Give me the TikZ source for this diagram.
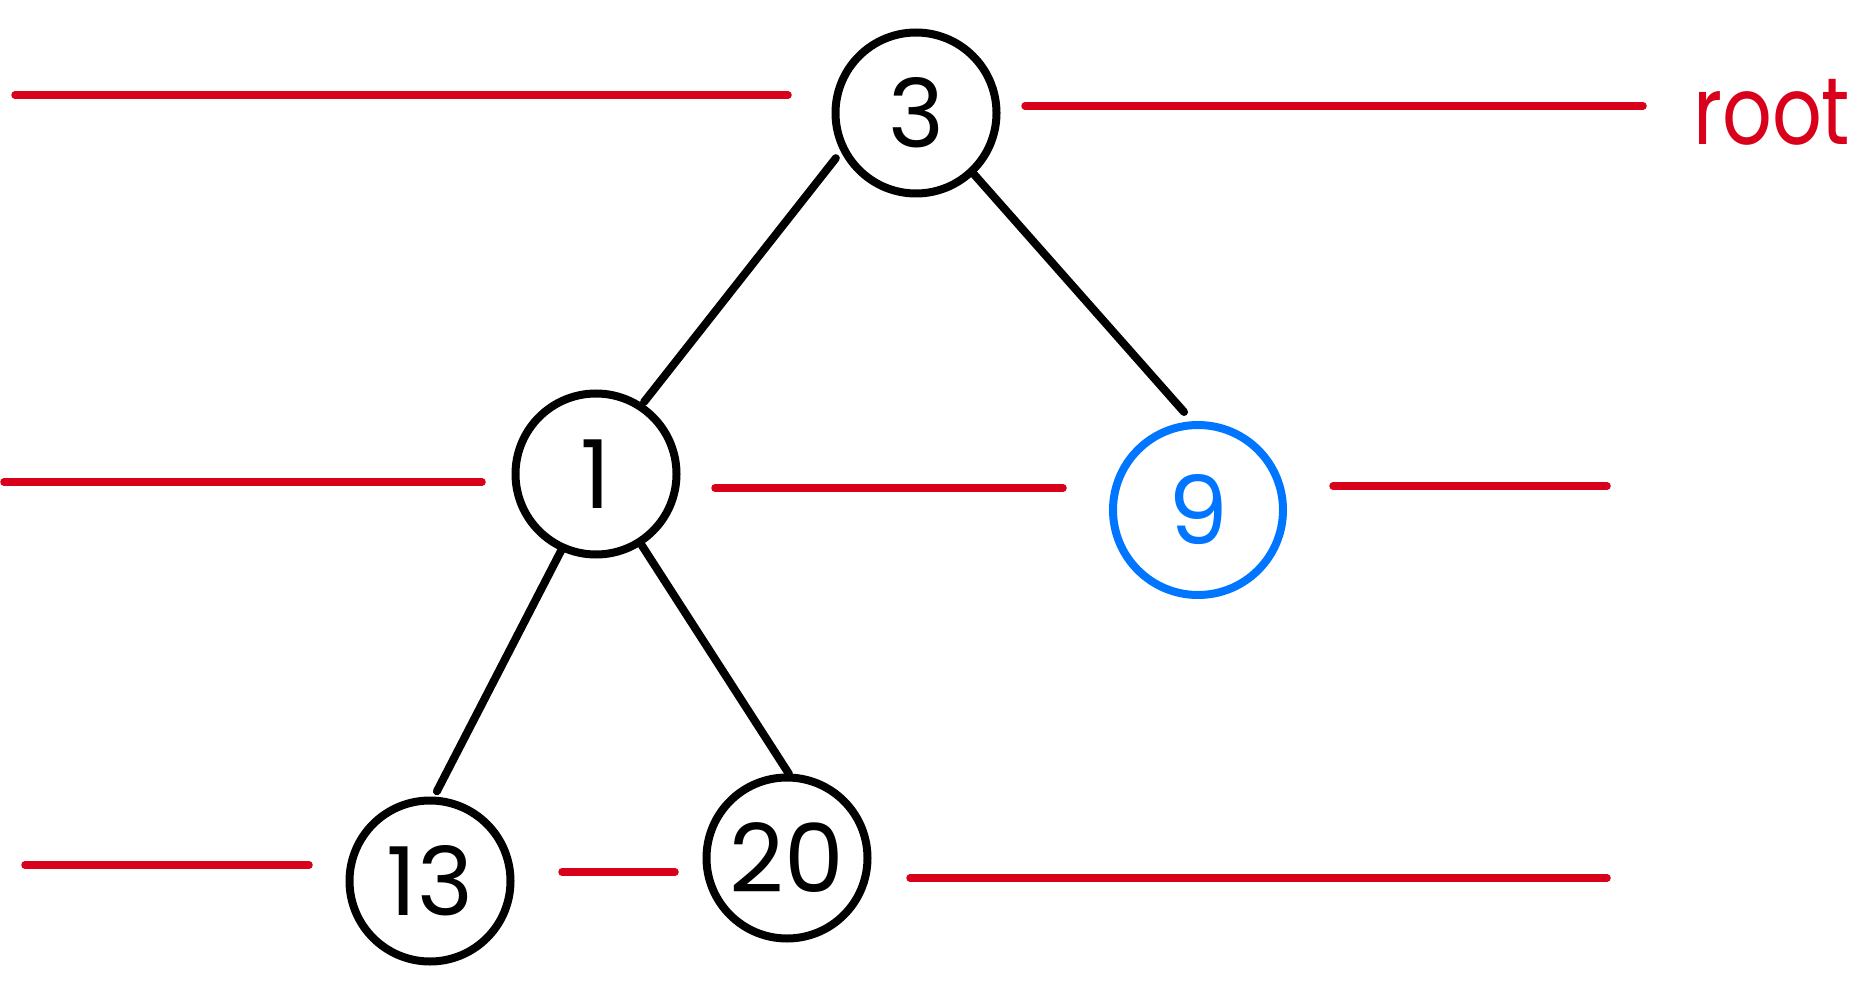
\documentclass[tikz,border=0pt]{standalone}
\usepackage{fontspec}
\setmainfont{Poppins}
\newfontfamily\rootfont[FakeStretch=0.82]{Poppins}
\usetikzlibrary{calc}
\definecolor{mred}{RGB}{217,0,27}
\definecolor{mblue}{RGB}{0,117,255}
\tikzset{
  treenode/.style={circle, draw=black, line width=8pt, minimum size=161pt, inner sep=0pt, font=\fontsize{95}{95}\selectfont},
  bluenode/.style={treenode, draw=mblue, text=mblue, minimum size=170pt},
  edge/.style={draw=black, line width=8pt, line cap=round},
  level/.style={draw=mred, line width=7.5pt, line cap=round},
}
\begin{document}
\begin{tikzpicture}[x=1pt,y=-1pt]
\useasboundingbox[fill=white] (0,0) rectangle (1863,1000);
% nodes
\node[treenode] (n3) at (916,113) {3};
\node[treenode] (n1) at (596,474) {1};
\node[bluenode] (n9) at (1198,510) {9};
\node[treenode] (n13) at (430,881) {13};
\node[treenode] (n20) at (787,858) {20};
% edges
\draw[edge] ($(n3)+(209.4:92pt)$) -- ($(n1)+(56.3:86.5pt)$);
\draw[edge] ($(n3)+(313.5:81pt)$) -- ($(n9)+(98.1:99pt)$);
\draw[edge] ($(n1)+(245.6:82pt)$) -- ($(n13)+(85.6:90pt)$);
\draw[edge] ($(n1)+(302.7:83pt)$) -- ($(n20)+(88.6:84pt)$);
% red level lines
\draw[level] (15,95) -- (788,95);
\draw[level] (1025,106) -- (1643,106);
\draw[level] (4,482) -- (482,482);
\draw[level] (715,488) -- (1063,488);
\draw[level] (1333,486) -- (1607,486);
\draw[level] (25,865) -- (309,865);
\draw[level] (562,872) -- (675,872);
\draw[level] (910,878) -- (1607,878);
% root label
\node[anchor=base west, inner sep=0pt, text=mred, font=\rootfont\fontsize{95}{95}\selectfont] (rootlbl) at (1693,145) {root};
\end{tikzpicture}
\end{document}
